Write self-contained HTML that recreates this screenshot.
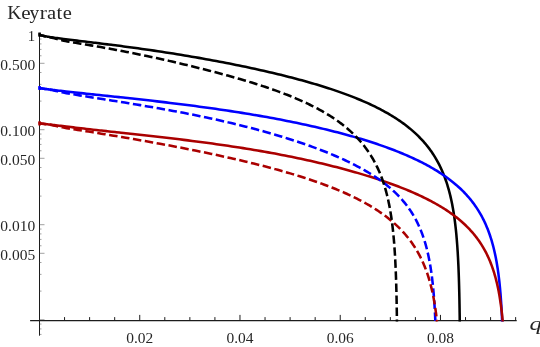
<!DOCTYPE html>
<html><head><meta charset="utf-8"><title>Keyrate</title>
<style>
html,body{margin:0;padding:0;background:#fff;}
svg{display:block;will-change:transform;}
text{font-family:"Liberation Serif",serif;fill:#262626;}
</style></head>
<body>
<svg width="540" height="347" viewBox="0 0 540 347">
<rect width="540" height="347" fill="#fff"/>
<g stroke="#1c1c1c" stroke-width="1.0" fill="none">
<line x1="30.1" y1="320.62" x2="516.7" y2="320.62" stroke-width="1.25"/>
<line x1="39.5" y1="34.2" x2="39.5" y2="335.7"/>
<path d="M64.56,320.5v-3.4 M89.62,320.5v-3.4 M114.68,320.5v-3.4 M139.74,320.5v-5.6 M164.80,320.5v-3.4 M189.86,320.5v-3.4 M214.92,320.5v-3.4 M239.98,320.5v-5.6 M265.04,320.5v-3.4 M290.10,320.5v-3.4 M315.16,320.5v-3.4 M340.22,320.5v-5.6 M365.28,320.5v-3.4 M390.34,320.5v-3.4 M415.40,320.5v-3.4 M440.46,320.5v-5.6 M465.52,320.5v-3.4 M490.58,320.5v-3.4 M515.64,320.5v-3.4" stroke-width="1.0"/>
<path d="M39.5,34.70h5 M39.5,39.05h2 M39.5,43.91h2 M39.5,49.42h2 M39.5,55.78h2 M39.5,63.30h5 M39.5,72.50h2 M39.5,84.37h2 M39.5,101.10h2 M39.5,129.70h5 M39.5,134.05h2 M39.5,138.91h2 M39.5,144.42h2 M39.5,150.78h2 M39.5,158.30h5 M39.5,167.50h2 M39.5,179.37h2 M39.5,196.10h2 M39.5,224.70h5 M39.5,229.05h2 M39.5,233.91h2 M39.5,239.42h2 M39.5,245.78h2 M39.5,253.30h5 M39.5,262.50h2 M39.5,274.37h2 M39.5,291.10h2 M39.5,319.70h5 M39.5,324.05h2 M39.5,328.91h2 M39.5,334.42h2" stroke="#444" stroke-width="0.5"/>
</g>
<path d="M39.60,32.62 L39.60,36.72 M39.00,34.72 L39.60,34.72 40.31,35.01 40.98,35.22 41.99,35.49 42.88,35.70 43.96,35.94 45.26,36.21 46.00,36.36 46.80,36.50 47.66,36.66 48.59,36.82 49.59,36.99 50.66,37.17 51.80,37.35 53.02,37.53 54.05,37.69 55.70,37.93 57.16,38.13 58.71,38.35 60.35,38.57 62.08,38.80 63.49,38.98 65.81,39.28 67.83,39.53 69.95,39.79 72.17,40.07 74.49,40.35 76.93,40.64 79.47,40.95 81.94,41.24 84.90,41.59 86.46,41.78 87.79,41.94 90.80,42.30 93.93,42.67 95.40,42.85 97.19,43.07 99.81,43.38 100.58,43.48 104.10,43.91 107.75,44.36 108.53,44.46 111.53,44.84 112.84,45.00 115.46,45.33 117.11,45.54 119.52,45.86 121.34,46.09 123.72,46.40 125.54,46.65 129.71,47.20 133.84,47.76 137.94,48.33 142.00,48.90 146.03,49.47 150.02,50.05 153.98,50.63 157.91,51.21 161.80,51.80 165.66,52.39 169.48,52.99 173.28,53.59 177.04,54.20 180.76,54.80 184.46,55.41 188.12,56.03 191.74,56.64 195.34,57.26 198.90,57.88 202.43,58.51 205.93,59.14 209.40,59.77 212.84,60.40 216.24,61.03 219.61,61.67 222.96,62.31 226.27,62.95 229.55,63.59 232.79,64.24 236.01,64.89 239.20,65.54 242.36,66.19 245.49,66.84 248.58,67.50 251.65,68.16 254.69,68.82 257.69,69.48 260.67,70.14 263.62,70.81 266.54,71.48 269.43,72.15 272.29,72.82 275.13,73.49 277.93,74.17 280.71,74.84 283.45,75.52 286.17,76.21 288.87,76.89 291.53,77.58 294.16,78.27 296.77,78.96 299.35,79.65 301.91,80.35 304.43,81.04 306.93,81.75 309.40,82.45 311.85,83.16 314.27,83.86 316.66,84.58 319.03,85.29 321.37,86.01 323.68,86.73 325.97,87.45 328.23,88.18 330.47,88.91 332.68,89.64 334.87,90.37 337.03,91.11 339.17,91.86 341.28,92.60 343.36,93.35 345.43,94.11 347.46,94.86 349.48,95.62 351.47,96.39 353.43,97.16 355.37,97.93 357.29,98.71 359.19,99.49 361.06,100.27 362.90,101.06 364.73,101.86 366.53,102.65 368.31,103.46 370.07,104.26 371.80,105.08 373.51,105.89 375.20,106.72 376.87,107.54 378.51,108.38 380.13,109.21 381.74,110.05 383.32,110.90 384.88,111.76 386.41,112.62 387.93,113.48 389.42,114.35 390.90,115.23 392.35,116.11 393.79,117.00 395.20,117.89 396.59,118.79 397.97,119.70 399.32,120.61 400.65,121.53 401.97,122.46 403.26,123.39 404.54,124.33 405.79,125.28 407.03,126.23 408.25,127.19 409.45,128.16 410.63,129.13 411.79,130.12 412.93,131.11 414.06,132.11 415.17,133.11 416.26,134.13 417.33,135.15 418.38,136.18 419.42,137.23 420.44,138.27 421.44,139.33 422.43,140.40 423.40,141.47 424.35,142.56 425.29,143.65 426.21,144.76 427.11,145.87 428.00,147.00 428.87,148.13 429.72,149.27 430.56,150.43 431.38,151.60 432.19,152.77 432.99,153.96 433.76,155.16 434.53,156.37 435.28,157.59 436.01,158.83 436.73,160.08 437.43,161.34 438.12,162.61 438.80,163.90 439.46,165.20 440.11,166.51 440.75,167.84 441.37,169.18 441.98,170.53 442.57,171.90 443.15,173.29 443.72,174.69 444.28,176.11 444.82,177.54 445.35,178.99 445.87,180.46 446.38,181.95 446.87,183.45 447.35,184.97 447.82,186.51 448.28,188.07 448.73,189.65 449.17,191.25 449.59,192.87 450.01,194.51 450.41,196.17 450.80,197.86 451.18,199.57 451.55,201.30 451.92,203.06 452.27,204.85 452.61,206.65 452.94,208.49 453.26,210.35 453.57,212.24 453.87,214.17 454.17,216.12 454.45,218.10 454.72,220.11 454.99,222.16 455.25,224.24 455.50,226.36 455.74,228.51 455.97,230.71 456.19,232.94 456.41,235.21 456.61,237.53 456.81,239.89 457.01,242.29 457.19,244.74 457.37,247.24 457.54,249.80 457.71,252.40 457.86,255.07 458.01,257.79 458.16,260.57 458.29,263.42 458.43,266.33 458.55,269.31 458.67,272.37 458.78,275.51 458.89,278.72 458.99,282.02 459.09,285.42 459.18,288.90 459.27,292.49 459.35,296.19 459.43,300.00 459.50,303.93 459.57,307.99 459.63,312.18 459.69,316.53 459.74,321.03 459.75,321.50" fill="none" stroke="#000000" stroke-width="2.55" stroke-linejoin="round"/>
<path d="M39.60,85.98 L39.60,90.08 M39.00,88.08 L39.60,88.08 40.38,88.23 41.13,88.35 41.82,88.46 42.70,88.59 43.79,88.74 44.96,88.90 45.85,89.03 46.66,89.13 47.55,89.25 48.50,89.37 49.52,89.51 50.27,89.60 51.81,89.79 53.07,89.95 54.41,90.11 55.55,90.25 57.37,90.46 58.98,90.65 60.69,90.85 62.50,91.06 64.41,91.28 65.97,91.46 68.53,91.74 70.76,91.99 73.09,92.25 75.54,92.52 78.11,92.79 80.80,93.08 83.61,93.39 86.34,93.68 89.60,94.02 91.33,94.21 92.79,94.36 96.11,94.72 99.57,95.08 101.19,95.25 103.17,95.46 106.06,95.77 106.91,95.86 110.79,96.27 114.82,96.70 115.68,96.79 119.00,97.14 120.43,97.29 123.33,97.60 125.15,97.80 127.81,98.09 129.82,98.31 132.45,98.59 134.46,98.81 139.06,99.32 143.62,99.83 148.14,100.33 152.62,100.84 157.07,101.36 161.48,101.87 165.85,102.39 170.18,102.91 174.48,103.43 178.74,103.96 182.96,104.48 187.15,105.02 191.29,105.55 195.41,106.09 199.48,106.64 203.52,107.18 207.53,107.73 211.50,108.29 215.43,108.85 219.33,109.41 223.19,109.98 227.02,110.55 230.81,111.12 234.57,111.70 238.29,112.29 241.98,112.87 245.63,113.47 249.25,114.06 252.84,114.66 256.39,115.27 259.91,115.87 263.39,116.49 266.84,117.10 270.26,117.72 273.65,118.35 277.00,118.98 280.32,119.61 283.61,120.25 286.86,120.89 290.09,121.53 293.28,122.18 296.43,122.83 299.56,123.49 302.66,124.15 305.72,124.81 308.75,125.48 311.75,126.15 314.73,126.82 317.67,127.50 320.57,128.18 323.45,128.87 326.30,129.55 329.12,130.25 331.91,130.94 334.67,131.64 337.40,132.35 340.09,133.05 342.76,133.76 345.41,134.48 348.02,135.19 350.60,135.92 353.15,136.64 355.68,137.37 358.18,138.10 360.65,138.83 363.09,139.57 365.50,140.32 367.89,141.06 370.24,141.81 372.57,142.57 374.88,143.32 377.15,144.08 379.40,144.85 381.62,145.62 383.82,146.39 385.99,147.17 388.13,147.95 390.25,148.73 392.34,149.52 394.41,150.31 396.44,151.11 398.46,151.91 400.45,152.71 402.41,153.52 404.35,154.33 406.26,155.15 408.15,155.97 410.02,156.80 411.86,157.63 413.67,158.47 415.46,159.31 417.23,160.15 418.98,161.00 420.70,161.86 422.39,162.72 424.07,163.59 425.72,164.46 427.35,165.33 428.95,166.22 430.53,167.10 432.09,168.00 433.63,168.89 435.15,169.80 436.64,170.71 438.11,171.63 439.56,172.55 440.99,173.48 442.40,174.41 443.78,175.36 445.15,176.30 446.49,177.26 447.82,178.22 449.12,179.19 450.40,180.17 451.67,181.15 452.91,182.14 454.13,183.14 455.33,184.15 456.52,185.16 457.68,186.19 458.83,187.22 459.95,188.26 461.06,189.30 462.15,190.36 463.22,191.42 464.27,192.50 465.30,193.58 466.31,194.68 467.31,195.78 468.29,196.89 469.25,198.01 470.19,199.15 471.12,200.29 472.03,201.44 472.92,202.61 473.80,203.78 474.66,204.97 475.50,206.17 476.32,207.38 477.13,208.60 477.93,209.83 478.71,211.08 479.47,212.34 480.21,213.61 480.95,214.90 481.66,216.20 482.36,217.51 483.05,218.84 483.72,220.18 484.38,221.54 485.02,222.91 485.65,224.30 486.26,225.71 486.86,227.13 487.45,228.57 488.02,230.02 488.58,231.49 489.12,232.99 489.66,234.49 490.17,236.02 490.68,237.57 491.18,239.14 491.66,240.73 492.13,242.34 492.58,243.97 493.03,245.62 493.46,247.29 493.88,248.99 494.29,250.72 494.69,252.46 495.08,254.24 495.45,256.04 495.82,257.86 496.17,259.72 496.52,261.60 496.85,263.51 497.17,265.45 497.49,267.43 497.79,269.43 498.08,271.47 498.37,273.54 498.64,275.65 498.91,277.80 499.16,279.99 499.41,282.21 499.65,284.48 499.88,286.78 500.10,289.14 500.31,291.54 500.52,293.98 500.71,296.48 500.90,299.02 501.08,301.63 501.26,304.28 501.42,307.00 501.58,309.78 501.73,312.62 501.88,315.53 502.01,318.51 502.14,321.50" fill="none" stroke="#0000ff" stroke-width="2.55" stroke-linejoin="round"/>
<path d="M39.60,121.34 L39.60,125.44 M39.00,123.44 L39.60,123.44 40.39,123.50 41.13,123.57 41.83,123.64 42.72,123.73 43.81,123.85 44.99,123.98 45.88,124.08 46.70,124.18 47.59,124.28 48.55,124.40 49.58,124.52 50.33,124.61 51.87,124.79 53.14,124.95 54.50,125.11 55.63,125.25 57.47,125.47 59.09,125.67 60.81,125.87 62.63,126.09 64.55,126.32 66.12,126.51 68.70,126.82 70.93,127.09 73.28,127.37 75.74,127.66 78.33,127.96 81.03,128.27 83.85,128.60 86.59,128.91 89.88,129.29 91.61,129.48 93.08,129.65 96.43,130.02 99.90,130.41 101.53,130.59 103.52,130.81 106.43,131.14 107.28,131.23 111.18,131.66 115.24,132.10 116.10,132.20 119.44,132.56 120.88,132.72 123.79,133.04 125.62,133.24 128.30,133.53 130.32,133.75 132.97,134.04 134.99,134.26 139.61,134.77 144.20,135.28 148.74,135.78 153.25,136.29 157.72,136.79 162.16,137.30 166.55,137.81 170.91,138.32 175.23,138.83 179.51,139.34 183.76,139.86 187.97,140.38 192.14,140.90 196.27,141.43 200.37,141.96 204.43,142.50 208.46,143.04 212.45,143.59 216.41,144.14 220.33,144.69 224.21,145.25 228.06,145.82 231.87,146.39 235.65,146.96 239.39,147.54 243.10,148.13 246.78,148.72 250.42,149.31 254.02,149.91 257.59,150.52 261.13,151.13 264.64,151.75 268.11,152.37 271.55,152.99 274.95,153.62 278.32,154.26 281.66,154.90 284.96,155.54 288.24,156.19 291.48,156.85 294.69,157.50 297.86,158.16 301.01,158.83 304.12,159.50 307.20,160.17 310.25,160.85 313.27,161.53 316.25,162.22 319.21,162.91 322.14,163.60 325.03,164.30 327.90,165.00 330.73,165.70 333.53,166.40 336.31,167.11 339.05,167.82 341.76,168.54 344.45,169.26 347.11,169.98 349.73,170.70 352.33,171.43 354.90,172.16 357.44,172.89 359.95,173.63 362.43,174.36 364.89,175.10 367.31,175.85 369.71,176.59 372.08,177.34 374.42,178.09 376.74,178.85 379.03,179.60 381.29,180.36 383.53,181.12 385.73,181.89 387.92,182.66 390.07,183.43 392.20,184.20 394.30,184.97 396.38,185.75 398.43,186.53 400.45,187.32 402.45,188.11 404.43,188.90 406.38,189.69 408.30,190.49 410.20,191.29 412.07,192.09 413.92,192.90 415.75,193.71 417.55,194.53 419.33,195.34 421.08,196.17 422.81,196.99 424.52,197.82 426.20,198.66 427.86,199.50 429.50,200.34 431.11,201.19 432.71,202.04 434.27,202.90 435.82,203.76 437.34,204.63 438.85,205.50 440.33,206.38 441.78,207.26 443.22,208.15 444.64,209.04 446.03,209.94 447.40,210.85 448.76,211.76 450.09,212.68 451.40,213.61 452.69,214.54 453.96,215.48 455.21,216.43 456.44,217.38 457.65,218.34 458.83,219.31 460.01,220.29 461.16,221.27 462.29,222.26 463.40,223.26 464.50,224.27 465.57,225.29 466.63,226.32 467.67,227.35 468.69,228.40 469.69,229.45 470.67,230.52 471.64,231.59 472.59,232.68 473.52,233.77 474.43,234.88 475.33,236.00 476.21,237.13 477.08,238.27 477.92,239.42 478.75,240.58 479.57,241.76 480.36,242.95 481.15,244.15 481.91,245.36 482.66,246.59 483.40,247.84 484.12,249.09 484.82,250.36 485.51,251.65 486.19,252.95 486.85,254.26 487.49,255.60 488.13,256.94 488.74,258.31 489.35,259.69 489.94,261.09 490.51,262.51 491.07,263.94 491.62,265.39 492.16,266.87 492.68,268.36 493.19,269.87 493.69,271.40 494.17,272.96 494.64,274.53 495.10,276.13 495.55,277.75 495.98,279.39 496.41,281.06 496.82,282.75 497.22,284.47 497.61,286.22 497.99,287.99 498.36,289.78 498.71,291.61 499.06,293.47 499.39,295.35 499.72,297.27 500.03,299.22 500.34,301.20 500.63,303.22 500.92,305.27 501.19,307.36 501.46,309.48 501.72,311.65 501.97,313.85 502.21,316.10 502.44,318.39 502.66,320.72 502.73,321.50" fill="none" stroke="#aa0000" stroke-width="2.55" stroke-linejoin="round"/>
<path d="M38.50,88.01 L39.60,88.01 40.45,88.19 41.19,88.32 42.26,88.50 43.18,88.65 44.19,88.80 44.95,88.91 45.65,89.01 46.40,89.12 47.22,89.24 48.10,89.37 49.04,89.52 50.05,89.69 51.13,89.88 52.28,90.11 53.25,90.31 54.81,90.66 56.20,90.98 57.66,91.32 59.21,91.68 60.84,92.05 62.18,92.33 64.37,92.77 66.28,93.13 68.28,93.49 70.38,93.85 72.57,94.22 74.87,94.60 77.28,94.99 79.61,95.38 82.41,95.83 83.89,96.07 85.14,96.27 87.99,96.73 90.95,97.20 92.33,97.42 94.03,97.69 96.50,98.09 97.23,98.20 100.55,98.73 104.00,99.28 104.74,99.39 107.58,99.85 108.81,100.04 111.29,100.44 112.85,100.68 115.13,101.05 116.85,101.32 119.10,101.68 120.82,101.96 124.76,102.60 128.66,103.23 132.53,103.86 136.37,104.50 140.18,105.13 143.95,105.76 147.69,106.40 151.40,107.04 155.08,107.67 158.73,108.31 162.35,108.96 165.93,109.60 169.48,110.25 173.00,110.89 176.49,111.55 179.95,112.20 183.38,112.86 186.78,113.52 190.15,114.18 193.48,114.85 196.79,115.52 200.07,116.19 203.31,116.87 206.53,117.54 209.72,118.23 212.88,118.91 216.01,119.60 219.10,120.29 222.17,120.99 225.22,121.68 228.23,122.38 231.21,123.09 234.17,123.79 237.09,124.50 239.99,125.21 242.86,125.93 245.71,126.65 248.52,127.36 251.31,128.09 254.07,128.81 256.80,129.54 259.50,130.27 262.18,131.00 264.83,131.73 267.45,132.47 270.05,133.21 272.62,133.95 275.16,134.69 277.68,135.44 280.17,136.18 282.64,136.93 285.07,137.68 287.49,138.43 289.88,139.19 292.24,139.95 294.57,140.70 296.88,141.46 299.17,142.23 301.43,142.99 303.67,143.75 305.88,144.52 308.07,145.29 310.23,146.06 312.37,146.83 314.48,147.61 316.57,148.38 318.64,149.16 320.68,149.94 322.70,150.72 324.69,151.51 326.67,152.29 328.61,153.08 330.54,153.87 332.44,154.66 334.32,155.46 336.18,156.25 338.01,157.05 339.83,157.85 341.62,158.66 343.39,159.46 345.13,160.27 346.86,161.08 348.56,161.89 350.24,162.71 351.90,163.53 353.54,164.35 355.15,165.18 356.75,166.01 358.33,166.84 359.88,167.67 361.42,168.51 362.93,169.35 364.42,170.20 365.90,171.05 367.35,171.90 368.78,172.76 370.19,173.62 371.59,174.49 372.96,175.36 374.32,176.23 375.65,177.11 376.97,178.00 378.27,178.89 379.55,179.78 380.81,180.68 382.05,181.59 383.27,182.50 384.48,183.41 385.66,184.33 386.83,185.26 387.98,186.20 389.12,187.14 390.23,188.08 391.33,189.04 392.41,190.00 393.48,190.96 394.52,191.94 395.55,192.92 396.57,193.91 397.56,194.90 398.54,195.91 399.51,196.92 400.45,197.94 401.39,198.97 402.30,200.01 403.20,201.05 404.09,202.11 404.95,203.17 405.81,204.25 406.65,205.33 407.47,206.42 408.28,207.53 409.07,208.64 409.85,209.77 410.61,210.90 411.36,212.05 412.10,213.21 412.82,214.38 413.53,215.56 414.22,216.75 414.90,217.96 415.56,219.18 416.22,220.41 416.86,221.65 417.48,222.91 418.09,224.18 418.69,225.47 419.28,226.77 419.86,228.09 420.42,229.42 420.97,230.77 421.51,232.13 422.03,233.51 422.55,234.90 423.05,236.32 423.54,237.75 424.02,239.19 424.48,240.66 424.94,242.15 425.38,243.65 425.82,245.18 426.24,246.72 426.65,248.29 427.05,249.87 427.45,251.48 427.83,253.12 428.20,254.77 428.56,256.45 428.91,258.15 429.25,259.88 429.58,261.63 429.90,263.42 430.22,265.22 430.52,267.06 430.81,268.92 431.10,270.82 431.38,272.75 431.64,274.70 431.90,276.69 432.16,278.72 432.40,280.78 432.63,282.87 432.86,285.01 433.08,287.18 433.29,289.39 433.49,291.64 433.69,293.94 433.88,296.28 434.06,298.67 434.24,301.10 434.41,303.59 434.57,306.12 434.72,308.72 434.87,311.36 435.01,314.07 435.15,316.84 435.28,319.67 435.36,321.50" fill="none" stroke="#0000ff" stroke-width="2.55" stroke-linejoin="round" stroke-dasharray="8.5 3.55" stroke-dashoffset="0.65"/>
<path d="M38.50,123.19 L39.60,123.19 40.28,123.36 41.20,123.55 42.28,123.74 43.22,123.88 44.24,124.03 45.01,124.13 45.71,124.23 46.48,124.33 47.30,124.44 48.19,124.56 49.14,124.70 50.17,124.86 51.26,125.05 52.42,125.26 53.40,125.45 54.98,125.78 56.38,126.09 57.86,126.42 59.42,126.76 61.07,127.10 62.43,127.37 64.64,127.78 66.57,128.12 68.59,128.46 70.71,128.80 72.93,129.15 75.26,129.52 77.69,129.90 80.05,130.28 82.88,130.72 84.37,130.96 85.64,131.16 88.52,131.61 91.51,132.09 92.91,132.31 94.62,132.58 97.12,132.98 97.86,133.10 101.22,133.64 104.71,134.21 105.45,134.33 108.32,134.80 109.57,135.00 112.07,135.41 113.65,135.67 115.95,136.06 117.69,136.35 119.97,136.73 121.71,137.02 125.69,137.69 129.64,138.36 133.55,139.04 137.43,139.71 141.28,140.39 145.09,141.06 148.88,141.74 152.63,142.41 156.35,143.09 160.03,143.76 163.69,144.44 167.31,145.12 170.90,145.79 174.46,146.47 177.99,147.15 181.49,147.83 184.95,148.51 188.39,149.19 191.79,149.87 195.17,150.54 198.51,151.22 201.82,151.91 205.11,152.59 208.36,153.27 211.58,153.95 214.77,154.63 217.94,155.31 221.07,156.00 224.17,156.68 227.25,157.36 230.29,158.05 233.31,158.73 236.30,159.42 239.26,160.11 242.19,160.80 245.09,161.49 247.96,162.18 250.81,162.87 253.62,163.56 256.41,164.25 259.17,164.95 261.91,165.64 264.62,166.34 267.29,167.04 269.95,167.74 272.57,168.44 275.17,169.14 277.74,169.85 280.29,170.56 282.80,171.27 285.30,171.98 287.76,172.69 290.20,173.40 292.61,174.12 295.00,174.84 297.36,175.56 299.70,176.29 302.01,177.01 304.30,177.74 306.56,178.47 308.79,179.21 311.00,179.94 313.19,180.68 315.35,181.43 317.49,182.17 319.60,182.92 321.69,183.67 323.75,184.43 325.80,185.19 327.81,185.95 329.81,186.72 331.78,187.49 333.72,188.26 335.65,189.04 337.55,189.82 339.42,190.60 341.28,191.39 343.11,192.18 344.92,192.98 346.71,193.78 348.47,194.58 350.22,195.39 351.94,196.21 353.64,197.02 355.32,197.85 356.97,198.67 358.61,199.51 360.22,200.34 361.81,201.19 363.39,202.03 364.94,202.89 366.47,203.74 367.98,204.61 369.47,205.47 370.93,206.35 372.38,207.23 373.81,208.11 375.22,209.00 376.61,209.90 377.98,210.80 379.33,211.71 380.66,212.62 381.97,213.55 383.27,214.47 384.54,215.41 385.80,216.35 387.03,217.29 388.25,218.25 389.45,219.21 390.63,220.18 391.80,221.15 392.94,222.13 394.07,223.12 395.18,224.12 396.27,225.12 397.35,226.13 398.41,227.15 399.45,228.18 400.47,229.22 401.48,230.26 402.47,231.31 403.44,232.38 404.40,233.45 405.34,234.52 406.27,235.61 407.18,236.71 408.07,237.82 408.95,238.93 409.81,240.06 410.66,241.19 411.49,242.34 412.31,243.49 413.11,244.66 413.90,245.84 414.67,247.02 415.43,248.22 416.17,249.43 416.90,250.65 417.62,251.89 418.32,253.13 419.00,254.39 419.68,255.66 420.34,256.94 420.98,258.23 421.62,259.54 422.24,260.86 422.84,262.20 423.44,263.55 424.02,264.91 424.59,266.29 425.14,267.69 425.68,269.10 426.22,270.52 426.74,271.96 427.24,273.42 427.74,274.90 428.22,276.39 428.69,277.90 429.15,279.43 429.60,280.98 430.04,282.54 430.47,284.13 430.89,285.73 431.29,287.36 431.69,289.01 432.07,290.68 432.45,292.37 432.81,294.08 433.17,295.82 433.51,297.59 433.85,299.38 434.17,301.19 434.49,303.03 434.80,304.90 435.09,306.79 435.38,308.72 435.66,310.68 435.93,312.66 436.20,314.68 436.45,316.73 436.70,318.82 436.93,320.94 436.99,321.50" fill="none" stroke="#aa0000" stroke-width="2.55" stroke-linejoin="round" stroke-dasharray="8.5 3.55" stroke-dashoffset="0.65"/>
<path d="M38.50,34.47 L39.60,34.47 40.20,34.85 41.03,35.21 41.99,35.54 42.83,35.78 43.73,36.01 44.42,36.17 45.72,36.44 46.46,36.58 47.25,36.73 48.10,36.89 49.01,37.06 49.98,37.26 51.02,37.48 51.89,37.68 53.30,38.02 54.54,38.35 55.86,38.71 57.25,39.09 58.72,39.50 59.93,39.81 61.90,40.30 63.62,40.68 65.42,41.05 67.30,41.41 69.28,41.77 71.35,42.12 73.52,42.49 75.62,42.84 78.14,43.26 79.47,43.48 80.60,43.67 83.16,44.09 85.82,44.54 87.07,44.75 88.60,45.00 90.82,45.38 94.47,46.00 97.57,46.54 100.79,47.10 101.90,47.30 104.13,47.69 105.54,47.95 107.59,48.31 109.14,48.60 111.17,48.97 112.71,49.25 116.26,49.91 119.77,50.58 123.26,51.24 126.71,51.91 130.14,52.59 133.54,53.27 136.91,53.95 140.25,54.64 143.56,55.32 146.84,56.01 150.10,56.70 153.32,57.40 156.52,58.09 159.69,58.79 162.83,59.49 165.95,60.19 169.03,60.88 172.09,61.58 175.12,62.28 178.13,62.99 181.10,63.69 184.05,64.39 186.98,65.09 189.87,65.79 192.74,66.49 195.58,67.19 198.40,67.89 201.19,68.59 203.95,69.29 206.69,69.99 209.40,70.69 212.09,71.39 214.75,72.09 217.39,72.78 219.99,73.48 222.58,74.18 225.14,74.88 227.67,75.58 230.18,76.27 232.66,76.97 235.12,77.67 237.56,78.37 239.97,79.07 242.35,79.77 244.71,80.47 247.05,81.17 249.37,81.88 251.66,82.58 253.92,83.28 256.16,83.99 258.38,84.70 260.58,85.41 262.75,86.12 264.90,86.83 267.02,87.54 269.13,88.26 271.21,88.97 273.27,89.69 275.30,90.42 277.32,91.14 279.31,91.87 281.27,92.60 283.22,93.33 285.15,94.07 287.05,94.80 288.93,95.55 290.79,96.29 292.63,97.04 294.45,97.79 296.24,98.55 298.02,99.31 299.77,100.07 301.51,100.84 303.22,101.61 304.91,102.38 306.58,103.16 308.23,103.94 309.87,104.73 311.48,105.52 313.07,106.32 314.64,107.12 316.19,107.93 317.73,108.74 319.24,109.56 320.73,110.38 322.21,111.21 323.66,112.04 325.10,112.88 326.52,113.72 327.92,114.57 329.30,115.42 330.66,116.28 332.01,117.15 333.33,118.02 334.64,118.90 335.93,119.78 337.20,120.67 338.46,121.57 339.69,122.48 340.91,123.38 342.12,124.30 343.30,125.22 344.47,126.15 345.62,127.09 346.76,128.03 347.87,128.99 348.97,129.94 350.06,130.91 351.13,131.88 352.18,132.86 353.22,133.85 354.24,134.84 355.24,135.85 356.23,136.86 357.20,137.88 358.16,138.90 359.10,139.94 360.03,140.98 360.94,142.03 361.84,143.09 362.72,144.16 363.59,145.24 364.44,146.33 365.28,147.42 366.11,148.53 366.92,149.64 367.71,150.77 368.49,151.90 369.26,153.05 370.02,154.20 370.76,155.36 371.48,156.54 372.20,157.72 372.90,158.92 373.59,160.13 374.26,161.34 374.92,162.57 375.57,163.81 376.21,165.06 376.83,166.33 377.45,167.60 378.04,168.89 378.63,170.19 379.21,171.51 379.77,172.84 380.32,174.18 380.86,175.53 381.39,176.90 381.91,178.28 382.41,179.68 382.91,181.09 383.39,182.52 383.87,183.96 384.33,185.42 384.78,186.90 385.22,188.39 385.65,189.90 386.07,191.43 386.48,192.97 386.88,194.53 387.27,196.12 387.66,197.72 388.03,199.34 388.39,200.98 388.74,202.65 389.08,204.33 389.42,206.04 389.74,207.77 390.06,209.52 390.36,211.30 390.66,213.10 390.95,214.93 391.23,216.78 391.51,218.66 391.77,220.57 392.03,222.51 392.28,224.47 392.52,226.47 392.75,228.50 392.98,230.56 393.20,232.66 393.41,234.79 393.61,236.96 393.81,239.16 394.00,241.41 394.19,243.69 394.36,246.02 394.53,248.39 394.70,250.81 394.85,253.27 395.01,255.78 395.15,258.35 395.29,260.96 395.42,263.64 395.55,266.37 395.67,269.16 395.79,272.01 395.90,274.93 396.01,277.92 396.11,280.99 396.21,284.13 396.30,287.35 396.39,290.66 396.47,294.06 396.55,297.55 396.62,301.14 396.69,304.84 396.75,308.66 396.82,312.59 396.87,316.66 396.93,320.86 396.93,321.50" fill="none" stroke="#000000" stroke-width="2.55" stroke-linejoin="round" stroke-dasharray="8.5 3.55" stroke-dashoffset="0.6"/>
<text x="35.2" y="41.15" font-size="14.7" text-anchor="end">1</text>
<text x="35.2" y="69.75" font-size="14.7" text-anchor="end" textLength="34.9" lengthAdjust="spacingAndGlyphs">0.500</text>
<text x="35.2" y="136.15" font-size="14.7" text-anchor="end" textLength="34.9" lengthAdjust="spacingAndGlyphs">0.100</text>
<text x="35.2" y="164.75" font-size="14.7" text-anchor="end" textLength="34.9" lengthAdjust="spacingAndGlyphs">0.050</text>
<text x="35.2" y="231.15" font-size="14.7" text-anchor="end" textLength="34.9" lengthAdjust="spacingAndGlyphs">0.010</text>
<text x="35.2" y="259.75" font-size="14.7" text-anchor="end" textLength="34.9" lengthAdjust="spacingAndGlyphs">0.005</text>
<text x="139.74" y="342.5" font-size="14.7" text-anchor="middle" textLength="27.0" lengthAdjust="spacingAndGlyphs">0.02</text>
<text x="239.98" y="342.5" font-size="14.7" text-anchor="middle" textLength="27.0" lengthAdjust="spacingAndGlyphs">0.04</text>
<text x="340.22" y="342.5" font-size="14.7" text-anchor="middle" textLength="27.0" lengthAdjust="spacingAndGlyphs">0.06</text>
<text x="440.46" y="342.5" font-size="14.7" text-anchor="middle" textLength="27.0" lengthAdjust="spacingAndGlyphs">0.08</text>
<text transform="translate(7.26,19.4) scale(1.093,1)" font-size="17.9">K</text>
<text transform="translate(21.20,19.4) scale(1.18,1)" font-size="17.9">e</text>
<text transform="translate(29.56,19.4) scale(1.082,1)" font-size="17.9">y</text>
<text transform="translate(39.66,19.4) scale(1.205,1)" font-size="17.9">r</text>
<text transform="translate(47.02,19.4) scale(1.154,1)" font-size="17.9">a</text>
<text transform="translate(56.60,19.4) scale(1.162,1)" font-size="17.9">t</text>
<text transform="translate(62.85,19.4) scale(1.144,1)" font-size="17.9">e</text>
<text x="529.4" y="329.9" font-size="19.6" font-style="italic" textLength="12.3" lengthAdjust="spacingAndGlyphs">q</text>
</svg>
</body></html>
